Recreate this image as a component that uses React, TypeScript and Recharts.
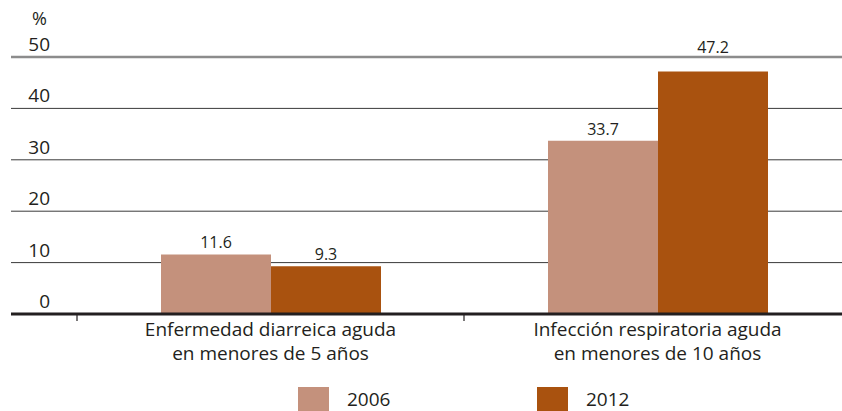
import { BarChart, Bar, XAxis, YAxis, CartesianGrid, ReferenceLine, LabelList, Legend } from 'recharts';

const categories = [
  ['Enfermedad diarreica aguda', 'en menores de 5 años'],
  ['Infección respiratoria aguda', 'en menores de 10 años'],
];
const values2006 = [11.6, 33.7];
const values2012 = [9.3, 47.2];
const yTicks = [0, 10, 20, 30, 40, 50];

const COLOR_2006 = '#c4917c';
const COLOR_2012 = '#a9520f';
const TEXT = '#231f20';
const FONT = '"Open Sans", sans-serif';

const data = categories.map((lines, i) => ({
  name: lines.join('\n'),
  y2006: values2006[i],
  y2012: values2012[i],
}));

function CategoryTick(props: any) {
  const { x, y, payload } = props;
  const lines = String(payload.value).split('\n');
  const half = payload.offset ?? 0;
  return (
    <g>
      <line x1={x - half} x2={x - half} y1={y + 1} y2={y + 7} stroke={TEXT} strokeWidth={1.2} />
      <text x={x} textAnchor="middle" fill={TEXT} fontSize={19} fontFamily={FONT}>
        <tspan x={x} y={y + 22}>{lines[0]}</tspan>
        <tspan x={x} y={y + 46}>{lines[1]}</tspan>
      </text>
    </g>
  );
}

function ValueTick(props: any) {
  const { x, y, payload } = props;
  return (
    <text x={x + 39} y={y - 6} textAnchor="end" fill={TEXT} fontSize={19} fontFamily={FONT}>
      {payload.value}
    </text>
  );
}

// labels that would sit on the top gridline are lifted above it
function BarValue(props: any) {
  const { x, y, width, value } = props;
  const lift = value > 45 ? 18 : 6;
  return (
    <text x={x + width / 2} y={y - lift} textAnchor="middle" fill={TEXT} fontSize={16} fontFamily={FONT}>
      {value}
    </text>
  );
}

function LegendBox(props: any) {
  const { payload } = props;
  return (
    <div style={{ display: 'flex', height: 30, paddingLeft: 298, fontFamily: FONT, fontSize: 19, color: TEXT }}>
      {(payload || []).map((p: any) => (
        <div key={p.value} style={{ width: 239, position: 'relative', height: 30 }}>
          <span style={{ position: 'absolute', left: 0, top: 6, width: 31, height: 24, background: p.color }} />
          <span style={{ position: 'absolute', left: 49, top: 6, lineHeight: '24px' }}>{p.value}</span>
        </div>
      ))}
    </div>
  );
}

export default function App() {
  return (
    <div style={{ position: 'absolute', left: 0, top: 0, width: 842, height: 411, overflow: 'hidden', background: '#fff' }}>
      <BarChart
        width={851}
        height={411}
        data={data}
        margin={{ top: 57, right: 0, left: 0, bottom: 0 }}
        barSize={110}
        barGap={0}
      >
        <CartesianGrid vertical={false} stroke="#3a3a3a" strokeWidth={1} />
        <ReferenceLine y={50} stroke="#8c8c8c" strokeWidth={2.5} />
        <XAxis
          dataKey="name"
          height={67}
          padding={{ left: 66, right: 0 }}
          axisLine={{ stroke: TEXT, strokeWidth: 3 }}
          tickLine={false}
          tickSize={0}
          tickMargin={0}
          interval={0}
          tick={<CategoryTick />}
        />
        <YAxis
          width={11}
          domain={[0, 50]}
          ticks={yTicks}
          axisLine={false}
          tickLine={false}
          tickSize={0}
          tickMargin={0}
          tick={<ValueTick />}
          label={{
            content: () => (
              <text x={39.5} y={25} textAnchor="middle" fill={TEXT} fontSize={18} fontFamily={FONT}>%</text>
            ),
          }}
        />
        <Legend verticalAlign="bottom" height={30} wrapperStyle={{ left: 0, width: 842 }} content={<LegendBox />} />
        <Bar dataKey="y2006" name="2006" fill={COLOR_2006} isAnimationActive={false}>
          <LabelList dataKey="y2006" content={<BarValue />} />
        </Bar>
        <Bar dataKey="y2012" name="2012" fill={COLOR_2012} isAnimationActive={false}>
          <LabelList dataKey="y2012" content={<BarValue />} />
        </Bar>
      </BarChart>
    </div>
  );
}
